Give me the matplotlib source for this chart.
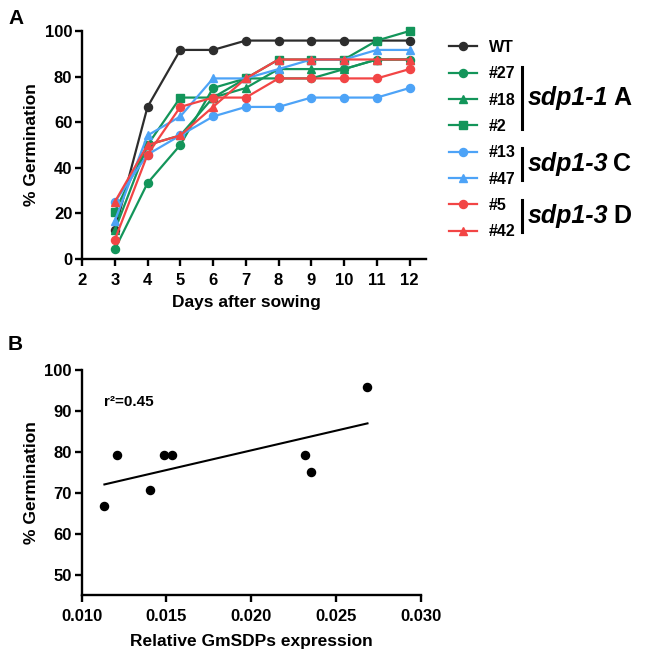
import numpy as np
import matplotlib
matplotlib.use("Agg")
import matplotlib.pyplot as plt
from matplotlib.lines import Line2D

plt.rcParams['font.family'] = ['Liberation Sans', 'DejaVu Sans']
plt.rcParams['font.weight'] = 'bold'

# ---- Panel A data: % germination per day ----
days = [3, 4, 5, 6, 7, 8, 9, 10, 11, 12]
wt = [12.5, 66.7, 91.7, 91.7, 95.8, 95.8, 95.8, 95.8, 95.8, 95.8]
l27 = [4.2, 33.3, 50.0, 75.0, 79.2, 79.2, 79.2, 83.3, 87.5, 87.5]
l18 = [12.5, 50.0, 54.2, 70.8, 75.0, 83.3, 83.3, 83.3, 87.5, 87.5]
l2 = [20.8, 50.0, 70.8, 70.8, 79.2, 87.5, 87.5, 87.5, 95.8, 100.0]
l13 = [25.0, 45.8, 54.2, 62.5, 66.7, 66.7, 70.8, 70.8, 70.8, 75.0]
l47 = [16.7, 54.2, 62.5, 79.2, 79.2, 83.3, 87.5, 87.5, 91.7, 91.7]
l5 = [8.3, 45.8, 66.7, 70.8, 70.8, 79.2, 79.2, 79.2, 79.2, 83.3]
l42 = [25.0, 50.0, 54.2, 66.7, 79.2, 87.5, 87.5, 87.5, 87.5, 87.5]

# ---- Panel B data: expression vs germination ----
expr = [0.01134, 0.0121, 0.0140, 0.01484, 0.01535, 0.0232, 0.0235, 0.02686]
germ = [66.7, 79.2, 70.8, 79.2, 79.2, 79.2, 75.0, 95.8]

BLACK = '#2d2d2d'
GREEN = '#13955a'
BLUE = '#4da3f7'
RED = '#f24545'

series = [
    ("WT", wt, BLACK, 'o'),
    ("#27", l27, GREEN, 'o'),
    ("#18", l18, GREEN, '^'),
    ("#2", l2, GREEN, 's'),
    ("#13", l13, BLUE, 'o'),
    ("#47", l47, BLUE, '^'),
    ("#5", l5, RED, 'o'),
    ("#42", l42, RED, '^'),
]

W, H = 650, 655
fig = plt.figure(figsize=(6.5, 6.55), dpi=100)


def style_axes(ax, xpad):
    for s in ['top', 'right']:
        ax.spines[s].set_visible(False)
    for s in ['left', 'bottom']:
        ax.spines[s].set_linewidth(1.7)
        ax.spines[s].set_color('black')
    ax.tick_params(width=1.7, length=5, labelsize=12, pad=2)
    ax.tick_params(axis='x', pad=xpad)
    for lab in ax.get_xticklabels() + ax.get_yticklabels():
        lab.set_fontweight('bold')


# ---- Panel A ----
axA = fig.add_axes([82 / W, 1 - 259 / H, 344 / W, 228 / H])
handles = []
for name, vals, col, mk in series:
    h, = axA.plot(days, vals, color=col, marker=mk, markersize=5.8,
                  linewidth=1.6, label=name, clip_on=False)
    handles.append(h)
axA.set_xlim(2, 12.5)
axA.set_ylim(0, 100)
axA.set_xticks(range(2, 13))
axA.set_yticks(range(0, 101, 20))
axA.spines['bottom'].set_bounds(2, 12.5)
style_axes(axA, 5)
axA.set_xlabel("Days after sowing", fontsize=12.5, fontweight='bold')
axA.xaxis.set_label_coords(0.477, -0.157)
axA.set_ylabel("% Germination", fontsize=12.5, fontweight='bold', labelpad=4)

leg = fig.legend(handles=handles, loc='upper left',
                 bbox_to_anchor=(441 / W, 1 - 32 / H), frameon=False,
                 fontsize=11.5, handlelength=1.75, handletextpad=0.75,
                 labelspacing=0.71, borderpad=0)
for t in leg.get_texts():
    t.set_fontweight('bold')

# group brackets and labels
groups = [("sdp1-1", "A", 67, 129), ("sdp1-3", "C", 148, 180), ("sdp1-3", "D", 200, 232)]
fig.canvas.draw()
renderer = fig.canvas.get_renderer()
for it, tag, y0, y1 in groups:
    fig.add_artist(Line2D([522 / W, 522 / W], [1 - y0 / H, 1 - y1 / H],
                          color='black', linewidth=2.2))
    yc = 1 - (y0 + y1) / 2 / H
    t1 = fig.text(528 / W, yc, it, fontsize=18, fontweight='bold',
                  fontstyle='italic', va='center', ha='left')
    bb = t1.get_window_extent(renderer)
    fig.text(bb.x1 / W + 5 / W, yc, tag, fontsize=18, fontweight='bold',
             va='center', ha='left')

# ---- Panel B ----
axB = fig.add_axes([81.7 / W, 1 - 595 / H, 339 / W, 224.7 / H])
axB.scatter(expr, germ, s=34, color='black', zorder=3, clip_on=False)
k, b = np.polyfit(expr, germ, 1)
xfit = np.array([min(expr), max(expr)])
axB.plot(xfit, k * xfit + b, color='black', linewidth=1.5)
r2 = np.corrcoef(expr, germ)[0, 1] ** 2
axB.text(0.0113, 92.2, "r²=%.2f" % r2, fontsize=11, fontweight='bold',
         va='center', ha='left')
axB.set_xlim(0.010, 0.030)
axB.set_ylim(45, 100)
axB.set_xticks([0.010, 0.015, 0.020, 0.025, 0.030])
axB.set_xticklabels(["0.010", "0.015", "0.020", "0.025", "0.030"])
axB.set_yticks(range(50, 101, 10))
style_axes(axB, 5)
axB.set_xlabel("Relative GmSDPs expression", fontsize=12.5, fontweight='bold', labelpad=7)
axB.set_ylabel("% Germination", fontsize=12.5, fontweight='bold', labelpad=4)

fig.text(8 / W, 1 - 19 / H, "A", fontsize=15, fontweight='bold', va='center')
fig.text(8 / W, 1 - 344 / H, "B", fontsize=15, fontweight='bold', va='center')

fig.savefig("out.png", dpi=100)
